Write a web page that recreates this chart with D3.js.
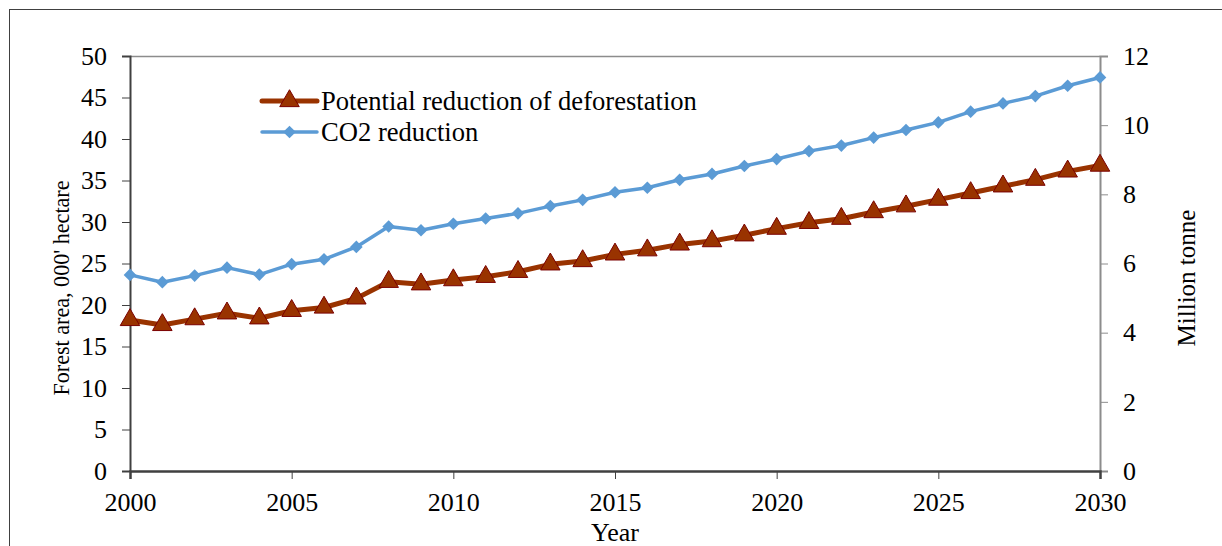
<!DOCTYPE html>
<html><head><meta charset="utf-8">
<script src="https://cdn.jsdelivr.net/npm/d3@7"></script>
<style>
body{margin:0;background:#fff;}
svg text{font-family:"Liberation Serif","Times New Roman",Times,"DejaVu Serif",serif !important;fill:#000;}
</style></head><body>
<svg id="chart" width="1222" height="546"></svg>
<script>
const years = d3.range(2000, 2031);
const deforestation = [18.2,17.6,18.3,19.0,18.4,19.3,19.7,20.8,22.8,22.5,23.0,23.4,24.0,24.9,25.3,26.1,26.6,27.3,27.7,28.4,29.2,29.9,30.4,31.2,31.9,32.7,33.5,34.3,35.1,36.1,36.8];
const co2 = [5.67,5.46,5.65,5.88,5.68,5.98,6.12,6.48,7.07,6.96,7.15,7.30,7.45,7.66,7.84,8.06,8.19,8.42,8.59,8.82,9.02,9.25,9.41,9.64,9.86,10.08,10.39,10.63,10.84,11.14,11.38];
const xTicks = [2000,2005,2010,2015,2020,2025,2030];
const yLeftTicks = [0,5,10,15,20,25,30,35,40,45,50];
const yRightTicks = [0,2,4,6,8,10,12];
const seriesNames = ["Potential reduction of deforestation","CO2 reduction"];

const svg = d3.select("#chart");
const L = 130, R = 1100, T = 56, B = 471;
const x = d3.scaleLinear().domain([2000,2030]).range([L,R]);
const yL = d3.scaleLinear().domain([0,50]).range([B,T]);
const yR = d3.scaleLinear().domain([0,12]).range([B,T]);

// outer frame
svg.append("rect").attr("x",9.5).attr("y",9.5).attr("width",1230).attr("height",560)
  .attr("fill","none").attr("stroke","#404040").attr("stroke-width",1);

// top border
svg.append("line").attr("x1",L).attr("x2",R).attr("y1",T+0.5).attr("y2",T+0.5)
  .attr("stroke","#8c8c8c").attr("stroke-width",1.5);

const fs = 26;
// left axis
const gL = svg.append("g").attr("transform",`translate(${L},0)`)
  .call(d3.axisLeft(yL).tickValues(yLeftTicks).tickSize(8).tickPadding(15).tickFormat(d3.format("d")));
gL.select(".domain").attr("stroke","#404040").attr("stroke-width",2);
gL.selectAll(".tick line").attr("stroke","#404040");
gL.selectAll("text").attr("font-size",fs);

// right axis
const gR = svg.append("g").attr("transform",`translate(${R},0)`)
  .call(d3.axisRight(yR).tickValues(yRightTicks).tickSize(8).tickPadding(15).tickFormat(d3.format("d")));
gR.select(".domain").attr("stroke","#8c8c8c").attr("stroke-width",2);
gR.selectAll(".tick line").attr("stroke","#8c8c8c");
gR.selectAll("text").attr("font-size",fs);

// bottom axis
const gB = svg.append("g").attr("transform",`translate(0,${B})`)
  .call(d3.axisBottom(x).tickValues(xTicks).tickSize(8).tickPadding(14).tickFormat(d3.format("d")));
gB.select(".domain").attr("stroke","#404040").attr("stroke-width",2.5);
gB.selectAll(".tick line").attr("stroke","#404040");
gB.selectAll("text").attr("font-size",fs);

// titles
svg.append("text").attr("x",615).attr("y",541).attr("text-anchor","middle")
  .attr("font-size",fs).text("Year");
svg.append("text").attr("transform","translate(69,288) rotate(-90)").attr("text-anchor","middle")
  .attr("font-size",24).attr("textLength",215).attr("lengthAdjust","spacingAndGlyphs")
  .text("Forest area, 000' hectare");
svg.append("text").attr("transform","translate(1195,278) rotate(-90)").attr("text-anchor","middle")
  .attr("font-size",25).text("Million tonne");

const red = "#993300", redStroke = "#7a0000", blue = "#5b9bd5";
const tri = d3.symbol().type(d3.symbolTriangle).size(165);
const dia = d3.symbol().type(d3.symbolSquare).size(80);

// blue series
const lineB = d3.line().x((d,i)=>x(years[i])).y(d=>yR(d));
svg.append("path").datum(co2).attr("d",lineB).attr("fill","none").attr("stroke",blue).attr("stroke-width",3.5).attr("stroke-linejoin","round");
svg.append("g").selectAll("path").data(co2).join("path")
  .attr("d",dia)
  .attr("transform",(d,i)=>`translate(${x(years[i])},${yR(d)}) rotate(45)`)
  .attr("fill",blue);

// red series
const lineR = d3.line().x((d,i)=>x(years[i])).y(d=>yL(d));
svg.append("path").datum(deforestation).attr("d",lineR).attr("fill","none").attr("stroke",red).attr("stroke-width",5).attr("stroke-linejoin","round");
svg.append("g").selectAll("path").data(deforestation).join("path")
  .attr("d",tri)
  .attr("transform",(d,i)=>`translate(${x(years[i])},${yL(d)})`)
  .attr("fill",red).attr("stroke",redStroke).attr("stroke-width",1);

// legend
const lg = svg.append("g");
const legendItems = [
  {name:seriesNames[0], y:101, color:red, w:5, sym:"tri"},
  {name:seriesNames[1], y:132, color:blue, w:3.5, sym:"dia"}
];
legendItems.forEach(it=>{
  lg.append("line").attr("x1",262).attr("x2",317).attr("y1",it.y).attr("y2",it.y)
    .attr("stroke",it.color).attr("stroke-width",it.w).attr("stroke-linecap","round");
  if(it.sym==="tri"){
    lg.append("path").attr("d",tri).attr("transform",`translate(289.5,${it.y})`)
      .attr("fill",red).attr("stroke",redStroke).attr("stroke-width",1);
  } else {
    lg.append("path").attr("d",dia)
      .attr("transform",`translate(289.5,${it.y}) rotate(45)`).attr("fill",blue);
  }
  lg.append("text").attr("x",321).attr("y",it.y+8.5).attr("font-size",26.6).text(it.name);
});
</script>
</body></html>
